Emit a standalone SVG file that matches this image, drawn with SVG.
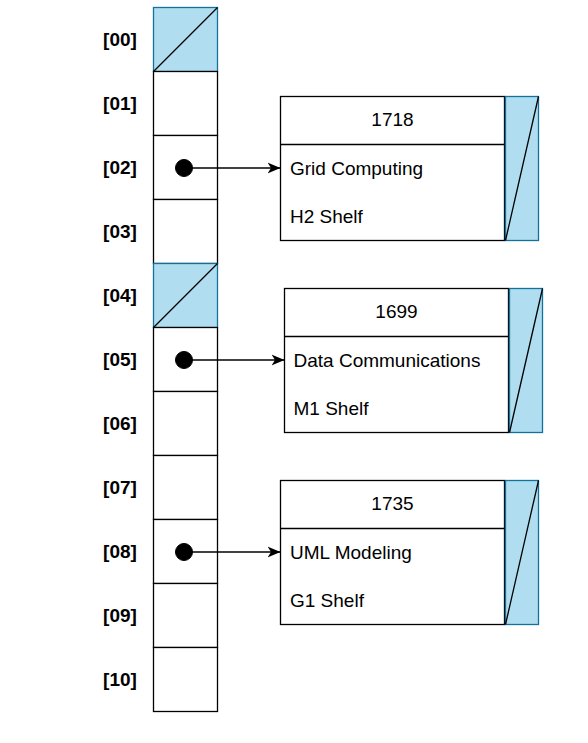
<svg xmlns="http://www.w3.org/2000/svg" width="588" height="743" viewBox="0 0 588 743">
<defs>
<style>
.lbl{font-family:"Liberation Sans",Arial,sans-serif;font-size:19px;font-weight:bold;fill:#000;text-anchor:middle}
.txt{font-family:"Liberation Sans",Arial,sans-serif;font-size:19px;fill:#000}
.mid{text-anchor:middle}
.cell{fill:#fff;stroke:#000;stroke-width:1.3}
.nil{fill:#b1ddf0;stroke:#10739e;stroke-width:1.3}
.rec{fill:#fff;stroke:#000;stroke-width:1.3}
.ln{stroke:#000;stroke-width:1.3;fill:none}
.dot{fill:#000;stroke:#000}
</style>
<marker id="arr" viewBox="0 0 14 12" refX="13" refY="6" markerWidth="14" markerHeight="12" markerUnits="userSpaceOnUse" orient="auto">
<path d="M13,6 L0,0.5 L3.5,6 L0,11.5 Z" fill="#000"/>
</marker>
</defs>
<rect width="588" height="743" fill="#fff"/>

<g id="labels">
<text class="lbl" x="120" y="46">[00]</text>
<text class="lbl" x="120" y="110">[01]</text>
<text class="lbl" x="120" y="174">[02]</text>
<text class="lbl" x="120" y="238">[03]</text>
<text class="lbl" x="120" y="302">[04]</text>
<text class="lbl" x="120" y="366">[05]</text>
<text class="lbl" x="120" y="430">[06]</text>
<text class="lbl" x="120" y="494">[07]</text>
<text class="lbl" x="120" y="558">[08]</text>
<text class="lbl" x="120" y="622">[09]</text>
<text class="lbl" x="120" y="686">[10]</text>
</g>

<g id="cell00"><rect class="nil" x="153.5" y="7.5" width="64" height="64"/><line class="ln" x1="153.5" y1="71.5" x2="217.5" y2="7.5"/></g>
<g id="cell01"><rect class="cell" x="153.5" y="71.5" width="64" height="64"/></g>
<g id="cell02"><rect class="cell" x="153.5" y="135.5" width="64" height="64"/><circle class="dot" cx="184" cy="168" r="8.5"/></g>
<g id="cell03"><rect class="cell" x="153.5" y="199.5" width="64" height="64"/></g>
<g id="cell04"><rect class="nil" x="153.5" y="263.5" width="64" height="64"/><line class="ln" x1="153.5" y1="327.5" x2="217.5" y2="263.5"/></g>
<g id="cell05"><rect class="cell" x="153.5" y="327.5" width="64" height="64"/><circle class="dot" cx="184" cy="360" r="8.5"/></g>
<g id="cell06"><rect class="cell" x="153.5" y="391.5" width="64" height="64"/></g>
<g id="cell07"><rect class="cell" x="153.5" y="455.5" width="64" height="64"/></g>
<g id="cell08"><rect class="cell" x="153.5" y="519.5" width="64" height="64"/><circle class="dot" cx="184" cy="552" r="8.5"/></g>
<g id="cell09"><rect class="cell" x="153.5" y="583.5" width="64" height="64"/></g>
<g id="cell10"><rect class="cell" x="153.5" y="647.5" width="64" height="64"/></g>

<g id="record1718">
<rect class="rec" x="280.5" y="96.5" width="224" height="144"/>
<line class="ln" x1="280.5" y1="144.5" x2="504.5" y2="144.5"/>
<text class="txt mid" x="392.5" y="126">1718</text>
<text class="txt" x="290" y="174.5">Grid Computing</text>
<text class="txt" x="290" y="222.5">H2 Shelf</text>
<rect class="nil" x="505.5" y="96.5" width="33" height="144"/>
<line class="ln" x1="505.5" y1="240.5" x2="538.5" y2="96.5"/>
</g>

<g id="record1699">
<rect class="rec" x="284.5" y="288.5" width="224" height="144"/>
<line class="ln" x1="284.5" y1="336.5" x2="508.5" y2="336.5"/>
<text class="txt mid" x="396.5" y="318">1699</text>
<text class="txt" x="293.5" y="366.5">Data Communications</text>
<text class="txt" x="293.5" y="414.5">M1 Shelf</text>
<rect class="nil" x="509.5" y="288.5" width="33" height="144"/>
<line class="ln" x1="509.5" y1="432.5" x2="542.5" y2="288.5"/>
</g>

<g id="record1735">
<rect class="rec" x="280.5" y="480.5" width="224" height="144"/>
<line class="ln" x1="280.5" y1="528.5" x2="504.5" y2="528.5"/>
<text class="txt mid" x="392.5" y="510">1735</text>
<text class="txt" x="290" y="558.5">UML Modeling</text>
<text class="txt" x="290" y="606.5">G1 Shelf</text>
<rect class="nil" x="505.5" y="480.5" width="33" height="144"/>
<line class="ln" x1="505.5" y1="624.5" x2="538.5" y2="480.5"/>
</g>

<g id="connectors">
<line class="ln" x1="184" y1="168" x2="280.5" y2="168" marker-end="url(#arr)"/>
<line class="ln" x1="184" y1="360" x2="284.5" y2="360" marker-end="url(#arr)"/>
<line class="ln" x1="184" y1="552" x2="280.5" y2="552" marker-end="url(#arr)"/>
</g>
</svg>
